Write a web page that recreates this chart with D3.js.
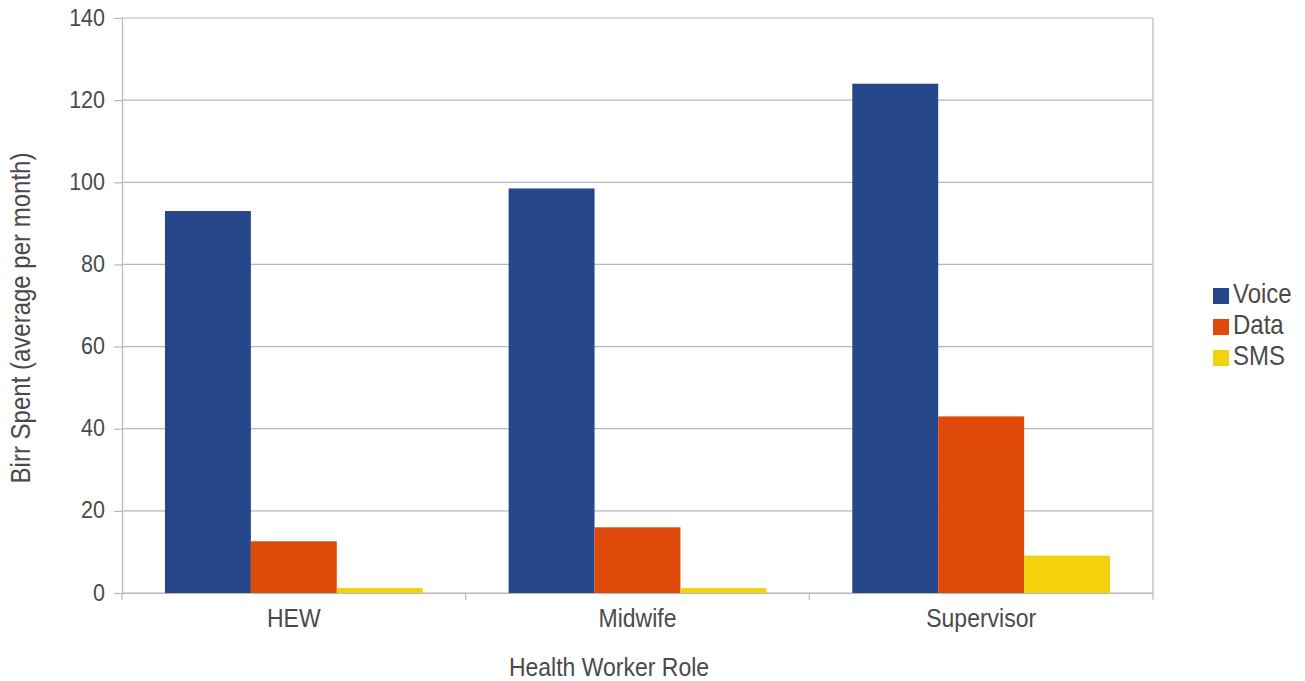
<!DOCTYPE html>
<html>
<head>
<meta charset="utf-8">
<script src="https://cdn.jsdelivr.net/npm/d3@7/dist/d3.min.js"></script>
<style>
  body { margin: 0; background: #fff; }
  svg text { font-family: "Liberation Sans", Arial, sans-serif; fill: #4a4a4a; }
</style>
</head>
<body>
<svg id="chart" width="1305" height="681"></svg>
<script>
// Average monthly spend per health worker role, by service type
const roles = ["HEW", "Midwife", "Supervisor"];
const seriesNames = ["Voice", "Data", "SMS"];
const voice = [93, 98.5, 124];
const data = [12.6, 16, 43];
const sms = [1.2, 1.2, 9.1];
const yTicks = [0, 20, 40, 60, 80, 100, 120, 140];
const colors = ["#26478a", "#df4a0b", "#f4d10d"];

const seriesValues = [voice, data, sms];

const svg = d3.select("#chart");
const W = 1305, H = 681;
const x0 = 122, x1 = 1153;
const yTop = 18, yBot = 593;
const gridColor = "#b8b8b8";
const stretch = 1.15; // glyphs are drawn slightly taller than wide

// Text helper: places a label at its baseline point with a vertical stretch
function label(g, x, y, txt, size, anchor) {
  return g.append("text")
    .attr("transform", `translate(${x},${y}) scale(1,${stretch})`)
    .attr("text-anchor", anchor || "start")
    .attr("font-size", size)
    .text(txt);
}

const x = d3.scaleBand().domain(roles).range([x0, x1]).paddingInner(0).paddingOuter(0);
const xs = d3.scaleBand().domain(seriesNames).range([0, x.bandwidth()]).paddingInner(0).paddingOuter(0.5);
const y = d3.scaleLinear().domain([0, 140]).range([yBot, yTop]);

// Horizontal gridlines
svg.append("g")
  .selectAll("line")
  .data(yTicks)
  .join("line")
  .attr("x1", x0).attr("x2", x1)
  .attr("y1", d => y(d)).attr("y2", d => y(d))
  .attr("stroke", gridColor).attr("stroke-width", 1.2);

// Right border
svg.append("line")
  .attr("x1", x1).attr("x2", x1).attr("y1", yTop).attr("y2", yBot)
  .attr("stroke", gridColor).attr("stroke-width", 1.2);

// Y axis (lines from d3, labels placed separately)
const gy = svg.append("g").attr("transform", `translate(${x0},0)`)
  .call(d3.axisLeft(y).tickValues(yTicks).tickSize(8).tickFormat(""));
gy.select(".domain").attr("stroke", gridColor).attr("stroke-width", 1.2);
gy.selectAll(".tick line").attr("stroke", gridColor).attr("stroke-width", 1.2);

const yLabels = svg.append("g");
yTicks.forEach(t => label(yLabels, x0 - 17, y(t) + 7.5, d3.format("d")(t), 21.5, "end"));

// Bars
const groups = svg.append("g").selectAll("g")
  .data(roles)
  .join("g")
  .attr("transform", d => `translate(${x(d)},0)`);

groups.selectAll("rect")
  .data((role, i) => seriesNames.map((s, j) => ({ s, j, v: seriesValues[j][i] })))
  .join("rect")
  .attr("x", d => xs(d.s))
  .attr("width", xs.bandwidth())
  .attr("y", d => y(d.v))
  .attr("height", d => y(0) - y(d.v))
  .attr("fill", d => colors[d.j]);

// X axis line
const gx = svg.append("g").attr("transform", `translate(0,${yBot})`)
  .call(d3.axisBottom(x).tickSize(0).tickFormat(""));
gx.select(".domain").attr("stroke", gridColor).attr("stroke-width", 1.2);

// Category separator ticks
const sepX = roles.map(r => x(r)).concat([x1]);
svg.append("g").selectAll("line")
  .data(sepX)
  .join("line")
  .attr("x1", d => d).attr("x2", d => d)
  .attr("y1", yBot).attr("y2", yBot + 7)
  .attr("stroke", gridColor).attr("stroke-width", 1.2);

// Category labels
const xLabels = svg.append("g");
roles.forEach(r => label(xLabels, x(r) + x.bandwidth() / 2, 627, r, 23, "middle"));

// Axis titles
label(svg, 609, 676, "Health Worker Role", 23, "middle");

svg.append("text")
  .attr("transform", `translate(30,318) rotate(-90) scale(1,${stretch})`)
  .attr("text-anchor", "middle").attr("font-size", 24)
  .text("Birr Spent (average per month)");

// Legend
const legend = svg.append("g").attr("transform", "translate(1213,288)");
const item = legend.selectAll("g")
  .data(seriesNames)
  .join("g")
  .attr("transform", (d, i) => `translate(0,${i * 31})`);
item.append("rect")
  .attr("width", 16).attr("height", 16)
  .attr("fill", (d, i) => colors[i]);
item.each(function (d) {
  label(d3.select(this), 20, 15, d, 24, "start");
});
</script>
</body>
</html>
